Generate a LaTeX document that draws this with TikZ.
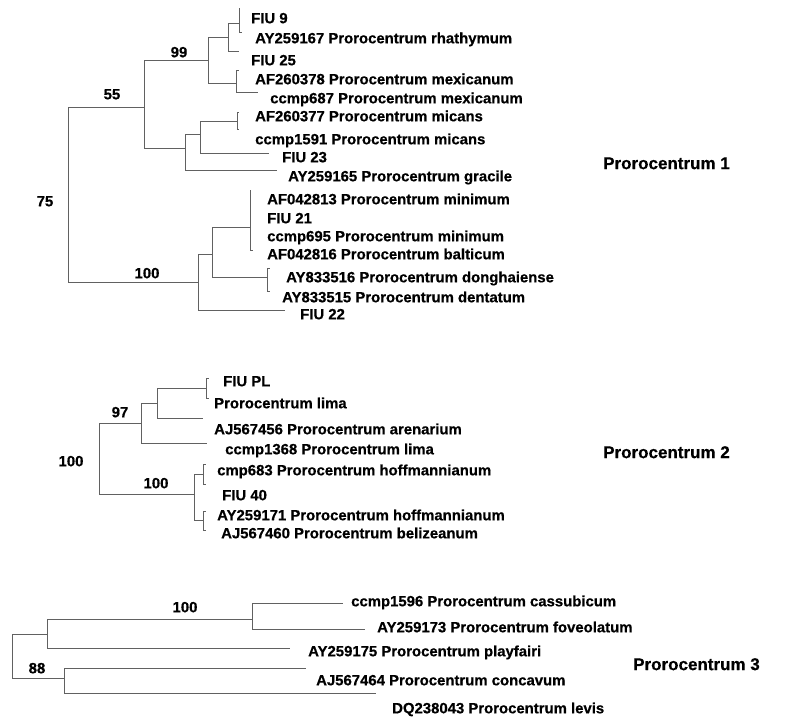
\documentclass[tikz,border=0pt]{standalone}
\usepackage{fontspec}
\setmainfont{Liberation Sans}[BoldFeatures={FakeBold=0.6}]
\begin{document}
\begin{tikzpicture}[x=1pt,y=-1pt,
  br/.style={draw=black!62, line width=0.8pt},
  leaf/.style={anchor=base west, inner sep=0pt, yshift=-5.3pt, font=\fontsize{14.9}{17}\selectfont\bfseries},
  boot/.style={anchor=base, inner sep=0pt, yshift=-5.3pt, font=\fontsize{14.9}{17}\selectfont\bfseries},
  clade/.style={anchor=base west, inner sep=0pt, yshift=-6.1pt, font=\fontsize{17}{20}\selectfont\bfseries}]
\useasboundingbox (0,0) rectangle (800,723);

% ---------- cluster 1 ----------
\coordinate (r1) at (68,195);
\coordinate (n55) at (144,107);
\coordinate (n99) at (208,60);
\coordinate (nA) at (228,37);
\coordinate (nB) at (239,23);
\coordinate (tFIU9) at (239,8);
\coordinate (tAY259167) at (242,32);
\coordinate (tFIU25) at (239,51);
\coordinate (nMex) at (236,83);
\coordinate (tAF260378) at (239,70);
\coordinate (tccmp687) at (258,92);
\coordinate (nC) at (185,148);
\coordinate (nD) at (200,134);
\coordinate (nE) at (237,121);
\coordinate (tAF260377) at (239,112);
\coordinate (tccmp1591) at (239,129);
\coordinate (tFIU23) at (269,153);
\coordinate (tAY259165) at (277,170);
\coordinate (n100a) at (198,282);
\coordinate (nF) at (212,254);
\coordinate (nG) at (250,227);
\coordinate (tAF042813) at (250,190);
\coordinate (tAF042816) at (253,250);
\coordinate (nH) at (267,277);
\coordinate (tAY833516) at (270,268);
\coordinate (tAY833515) at (270,291);
\coordinate (tFIU22) at (285,310);

\draw[br] (r1) |- (n55);
\draw[br] (r1) |- (n100a);
\draw[br] (n55) |- (n99);
\draw[br] (n55) |- (nC);
\draw[br] (n99) |- (nA);
\draw[br] (n99) |- (nMex);
\draw[br] (nA) |- (nB);
\draw[br] (nA) |- (tFIU25);
\draw[br] (nB) |- (tFIU9);
\draw[br] (nB) |- (tAY259167);
\draw[br] (nMex) |- (tAF260378);
\draw[br] (nMex) |- (tccmp687);
\draw[br] (nC) |- (nD);
\draw[br] (nC) |- (tAY259165);
\draw[br] (nD) |- (nE);
\draw[br] (nD) |- (tFIU23);
\draw[br] (nE) |- (tAF260377);
\draw[br] (nE) |- (tccmp1591);
\draw[br] (n100a) |- (nF);
\draw[br] (n100a) |- (tFIU22);
\draw[br] (nF) |- (nG);
\draw[br] (nF) |- (nH);
\draw[br] (nG) |- (tAF042813);
\draw[br] (nG) |- (tAF042816);
\draw[br] (nH) |- (tAY833516);
\draw[br] (nH) |- (tAY833515);

\node[leaf] (lFIU9) at (251,18) {FIU 9};
\node[leaf] (lAY259167) at (255,38) {AY259167 Prorocentrum rhathymum};
\node[leaf] (lFIU25) at (251,60) {FIU 25};
\node[leaf] (lAF260378) at (255,79) {AF260378 Prorocentrum mexicanum};
\node[leaf] (lccmp687) at (270,98) {ccmp687 Prorocentrum mexicanum};
\node[leaf] (lAF260377) at (255,116) {AF260377 Prorocentrum micans};
\node[leaf] (lccmp1591) at (255,139) {ccmp1591 Prorocentrum micans};
\node[leaf] (lFIU23) at (282,157) {FIU 23};
\node[leaf] (lAY259165) at (288,176) {AY259165 Prorocentrum gracile};
\node[leaf] (lAF042813) at (267,199) {AF042813 Prorocentrum minimum};
\node[leaf] (lFIU21) at (267,218) {FIU 21};
\node[leaf] (lccmp695) at (267,236) {ccmp695 Prorocentrum minimum};
\node[leaf] (lAF042816) at (267,254) {AF042816 Prorocentrum balticum};
\node[leaf] (lAY833516) at (286,277) {AY833516 Prorocentrum donghaiense};
\node[leaf] (lAY833515) at (282,297) {AY833515 Prorocentrum dentatum};
\node[leaf] (lFIU22) at (300,314) {FIU 22};
\node[clade] (cl1) at (603,163) {Prorocentrum 1};

\node[boot] (b55) at (112,94) {55};
\node[boot] (b99) at (179,52) {99};
\node[boot] (b75) at (45,201) {75};
\node[boot] (b100a) at (147,273) {100};

% ---------- cluster 2 ----------
\coordinate (r2) at (99,458);
\coordinate (n97) at (141,423);
\coordinate (nI) at (157,403);
\coordinate (nJ) at (206,388);
\coordinate (tFIUPL) at (209,378);
\coordinate (tlima) at (209,398);
\coordinate (tAJ567456) at (203,418);
\coordinate (tccmp1368) at (207,443);
\coordinate (n100b) at (194,494);
\coordinate (nK) at (203,474);
\coordinate (tcmp683) at (206,464);
\coordinate (tFIU40) at (206,484);
\coordinate (nL) at (203,520);
\coordinate (tAY259171) at (206,511);
\coordinate (tAJ567460) at (206,530);

\draw[br] (r2) |- (n97);
\draw[br] (r2) |- (n100b);
\draw[br] (n97) |- (nI);
\draw[br] (n97) |- (tccmp1368);
\draw[br] (nI) |- (nJ);
\draw[br] (nI) |- (tAJ567456);
\draw[br] (nJ) |- (tFIUPL);
\draw[br] (nJ) |- (tlima);
\draw[br] (n100b) |- (nK);
\draw[br] (n100b) |- (nL);
\draw[br] (nK) |- (tcmp683);
\draw[br] (nK) |- (tFIU40);
\draw[br] (nL) |- (tAY259171);
\draw[br] (nL) |- (tAJ567460);

\node[leaf] (lFIUPL) at (223,381) {FIU PL};
\node[leaf] (llima) at (214,403) {Prorocentrum lima};
\node[leaf] (lAJ567456) at (214,429) {AJ567456 Prorocentrum arenarium};
\node[leaf] (lccmp1368) at (225,449) {ccmp1368 Prorocentrum lima};
\node[leaf] (lcmp683) at (217,470) {cmp683 Prorocentrum hoffmannianum};
\node[leaf] (lFIU40) at (222,495) {FIU 40};
\node[leaf] (lAY259171) at (217,515) {AY259171 Prorocentrum hoffmannianum};
\node[leaf] (lAJ567460) at (221,533) {AJ567460 Prorocentrum belizeanum};
\node[clade] (cl2) at (603,452) {Prorocentrum 2};

\node[boot] (b97) at (120,412) {97};
\node[boot] (b100b) at (71,461) {100};
\node[boot] (b100c) at (156,483) {100};

% ---------- cluster 3 ----------
\coordinate (r3) at (12,656);
\coordinate (nM) at (47,634);
\coordinate (n100d) at (252,619);
\coordinate (tccmp1596) at (343,603);
\coordinate (tAY259173) at (365,629);
\coordinate (tAY259175) at (290,648);
\coordinate (nN) at (64,678);
\coordinate (tAJ567464) at (306,668);
\coordinate (tDQ238043) at (376,693);

\draw[br] (r3) |- (nM);
\draw[br] (r3) |- (nN);
\draw[br] (nM) |- (n100d);
\draw[br] (nM) |- (tAY259175);
\draw[br] (n100d) |- (tccmp1596);
\draw[br] (n100d) |- (tAY259173);
\draw[br] (nN) |- (tAJ567464);
\draw[br] (nN) |- (tDQ238043);

\node[leaf] (lccmp1596) at (351,601) {ccmp1596 Prorocentrum cassubicum};
\node[leaf] (lAY259173) at (377,627) {AY259173 Prorocentrum foveolatum};
\node[leaf] (lAY259175) at (308,651) {AY259175 Prorocentrum playfairi};
\node[leaf] (lAJ567464) at (316,680) {AJ567464 Prorocentrum concavum};
\node[leaf] (lDQ238043) at (392,708) {DQ238043 Prorocentrum levis};
\node[clade] (cl3) at (633,664) {Prorocentrum 3};

\node[boot] (b100d) at (185,607) {100};
\node[boot] (b88) at (37,668) {88};
\end{tikzpicture}
\end{document}
